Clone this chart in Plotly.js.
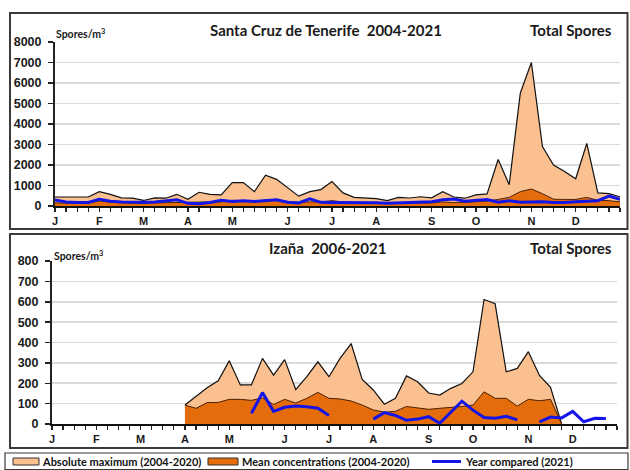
<!DOCTYPE html>
<html>
<head>
<meta charset="utf-8">
<script src="https://cdn.plot.ly/plotly-3.0.1.min.js"></script>
<style>html,body{margin:0;padding:0;background:#fff;}#chart{width:630px;height:470px;}</style>
</head>
<body>
<div id="chart"></div>
<script>
// ---- Data (weekly, week index 0..51) ----
const weeks = [0,1,2,3,4,5,6,7,8,9,10,11,12,13,14,15,16,17,18,19,20,21,22,23,24,25,26,27,28,29,30,31,32,33,34,35,36,37,38,39,40,41,42,43,44,45,46,47,48,49,50,51];
const monthTickWeeks = [0,4,8,12,16,21,25,29,34,38,43,47];
const monthLabels = ["J","F","M","A","M","J","J","A","S","O","N","D"];

// Santa Cruz de Tenerife 2004-2021
const scMax  = [440,440,440,440,700,570,400,380,270,400,380,570,330,670,570,540,1140,1140,700,1500,1300,900,480,700,800,1190,640,420,400,360,260,420,390,450,400,700,440,380,540,590,2270,1040,5500,7000,2900,2000,1680,1330,3050,640,600,450];
const scMean = [150,130,120,130,250,180,150,140,120,150,160,200,180,220,200,200,280,250,200,300,260,220,180,200,200,260,200,180,160,150,120,140,150,160,150,200,170,180,200,240,320,420,700,830,600,330,320,320,420,280,260,200];
const sc2021 = [300,200,170,170,330,230,190,180,180,200,260,300,130,110,170,280,220,260,220,260,300,180,150,350,180,170,170,170,160,160,130,150,160,170,210,300,340,230,260,320,180,260,180,210,210,170,170,210,250,260,480,330];

// Izaña 2006-2021
const izMax  = [null,null,null,null,null,null,null,null,null,null,null,null,93,134,178,212,310,192,192,322,240,316,169,232,305,232,322,395,219,167,97,126,236,207,152,142,175,199,256,611,590,256,273,355,238,180,0,null,null,null,null,null];
const izMean = [null,null,null,null,null,null,null,null,null,null,null,null,93,77,105,106,121,121,116,128,96,121,103,126,155,126,123,113,93,69,58,62,86,80,72,77,81,86,93,158,126,126,88,121,114,121,0,null,null,null,null,null];
const iz2021 = [null,null,null,null,null,null,null,null,null,null,null,null,null,null,null,null,null,null,52,154,62,82,88,85,77,42,null,null,null,24,56,42,18,24,36,4,60,112,68,32,28,38,20,null,11,34,30,62,11,28,27,null];

const seriesNames = ["Absolute maximum (2004-2020)","Mean concentrations (2004-2020)","Year compared (2021)"];

// ---- Styles ----
const cMax = "#FAC090", cMean = "#E46C0A", cBlue = "#1414E6";
const W = 630, H = 470;
const px = v => v / W;
const py = v => (H - v) / H;

function panel(xa, ya, maxY, meanY, blueY) {
  return [
    {x: weeks, y: maxY, xaxis: xa, yaxis: ya, type: "scatter", mode: "lines", fill: "tozeroy",
     fillcolor: cMax, line: {color: "#111", width: 1.2}, name: seriesNames[0], connectgaps: false},
    {x: weeks, y: meanY, xaxis: xa, yaxis: ya, type: "scatter", mode: "lines", fill: "tozeroy",
     fillcolor: cMean, line: {color: "#4a2205", width: 1}, name: seriesNames[1], connectgaps: false},
    {x: weeks, y: blueY, xaxis: xa, yaxis: ya, type: "scatter", mode: "lines",
     line: {color: cBlue, width: 3}, name: seriesNames[2], connectgaps: false}
  ];
}

const traces = [].concat(
  panel("x", "y", scMax, scMean, sc2021),
  panel("x2", "y2", izMax, izMean, iz2021)
);

const tickFont = {family: "Liberation Sans, Arial, sans-serif", size: 12.5, color: "#1a1a1a", weight: "bold"};
const monFont = {family: "Liberation Sans, Arial, sans-serif", size: 11, color: "#1a1a1a", weight: "bold"};

function xAxis(domain, anchor) {
  return {domain: domain, anchor: anchor, range: [0, 51], tickmode: "array",
    tickvals: weeks, ticktext: weeks.map(w => { const i = monthTickWeeks.indexOf(w); return i >= 0 ? monthLabels[i] : " "; }),
    ticks: "outside", ticklen: 4, tickwidth: 1.2, tickcolor: "#222", tickfont: monFont,
    showline: true, linecolor: "#111", linewidth: 1.5, showgrid: false, zeroline: false, fixedrange: true};
}
function yAxis(domain, anchor, maxv, dt) {
  return {domain: domain, anchor: anchor, range: [0, maxv], dtick: dt, tick0: 0,
    ticks: "outside", ticklen: 5, tickwidth: 1.5, tickcolor: "#222", tickfont: tickFont, ticklabelstandoff: 4,
    showline: true, linecolor: "#222", linewidth: 2, showgrid: true, gridcolor: "#dadada", gridwidth: 1.6,
    zeroline: false, fixedrange: true};
}
function yOver(base, anchor, maxv, dt) {
  return {overlaying: base, anchor: anchor, range: [0, maxv], dtick: dt, tick0: 0, ticks: "inside", ticklen: 5,
    tickwidth: 1.5, tickcolor: "#222", showticklabels: false, showgrid: false, showline: false, zeroline: false, fixedrange: true};
}

const titleFont = {family: "Lato, 'Open Sans', sans-serif", size: 15, color: "#1a1a1a", weight: "bold"};
const unitFont = {family: "Lato, 'Open Sans', sans-serif", size: 10.5, color: "#1a1a1a", weight: "bold"};
const legFont = {family: "Lato, 'Open Sans', sans-serif", size: 11, color: "#111", weight: "bold"};

// legend (manual, to match the reference's spacing)
const legY = 461.5;
const legendShapes = [
  {type: "rect", xref: "paper", yref: "paper", x0: px(13), x1: px(39), y0: py(legY + 3.5), y1: py(legY - 3.5), fillcolor: cMax, line: {color: "#333", width: 1}},
  {type: "rect", xref: "paper", yref: "paper", x0: px(208), x1: px(238), y0: py(legY + 3.5), y1: py(legY - 3.5), fillcolor: cMean, line: {color: "#333", width: 1}},
  {type: "line", xref: "paper", yref: "paper", x0: px(432), x1: px(461), y0: py(legY), y1: py(legY), line: {color: cBlue, width: 3}}
];
const legendAnn = [
  {x: px(40), text: seriesNames[0]},
  {x: px(240), text: seriesNames[1]},
  {x: px(463), text: seriesNames[2]}
].map(a => ({xref: "paper", yref: "paper", x: a.x, y: py(legY), xanchor: "left", yanchor: "middle", showarrow: false, text: a.text, font: legFont}));

const layout = {
  width: W, height: H, margin: {l: 0, r: 0, t: 0, b: 0},
  paper_bgcolor: "#fff", plot_bgcolor: "#fff",
  showlegend: false,
  xaxis: xAxis([px(55), px(620)], "y"),
  yaxis: yAxis([py(206), py(42)], "x", 8000, 1000),
  yaxis3: yOver("y", "x", 8000, 1000),
  xaxis2: xAxis([px(52), px(617)], "y2"),
  yaxis2: yAxis([py(424), py(261)], "x2", 800, 100),
  yaxis4: yOver("y2", "x2", 800, 100),
  shapes: [
    {type: "rect", xref: "paper", yref: "paper", x0: px(10), x1: px(627.5), y0: py(229), y1: py(13), line: {color: "#3a3a3a", width: 2}},
    {type: "rect", xref: "paper", yref: "paper", x0: px(10), x1: px(627.5), y0: py(448), y1: py(234), line: {color: "#3a3a3a", width: 2}},
    {type: "rect", xref: "paper", yref: "paper", x0: px(5), x1: px(628), y0: py(469.5), y1: py(453), line: {color: "#3a3a3a", width: 1.2}}
  ].concat(legendShapes),
  annotations: [
    {xref: "paper", yref: "paper", x: px(326), y: py(30), xanchor: "center", yanchor: "middle", showarrow: false,
     text: "Santa Cruz de Tenerife\u00a0\u00a02004-2021", font: titleFont},
    {xref: "paper", yref: "paper", x: px(614), y: py(30), xanchor: "right", yanchor: "middle", showarrow: false,
     text: "Total Spores", font: titleFont},
    {xref: "paper", yref: "paper", x: px(54), y: py(33), xanchor: "left", yanchor: "middle", showarrow: false,
     text: "Spores/m<sup>3</sup>", font: unitFont},
    {xref: "paper", yref: "paper", x: px(327), y: py(248), xanchor: "center", yanchor: "middle", showarrow: false,
     text: "Izaña\u00a0\u00a02006-2021", font: titleFont},
    {xref: "paper", yref: "paper", x: px(614), y: py(248), xanchor: "right", yanchor: "middle", showarrow: false,
     text: "Total Spores", font: titleFont},
    {xref: "paper", yref: "paper", x: px(52), y: py(255), xanchor: "left", yanchor: "middle", showarrow: false,
     text: "Spores/m<sup>3</sup>", font: unitFont}
  ].concat(legendAnn)
};

Plotly.newPlot("chart", traces, layout, {staticPlot: true, displayModeBar: false});
</script>
</body>
</html>
